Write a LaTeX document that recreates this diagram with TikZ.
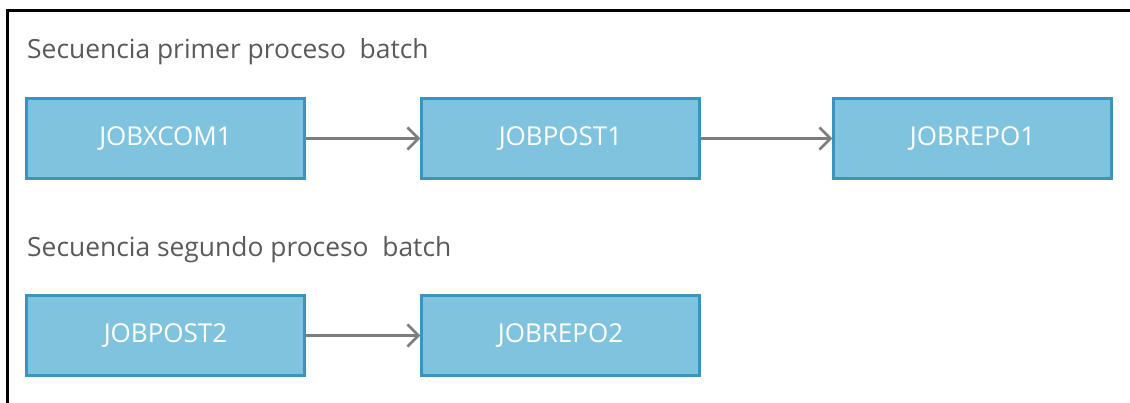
\documentclass[tikz,border=0pt]{standalone}
\usepackage{fontspec}
\setmainfont{Open Sans}
\usepackage{xcolor}
\usepackage{tikz}
\usetikzlibrary{arrows.meta, positioning}
\definecolor{jobfill}{RGB}{128, 195, 222}
\definecolor{jobedge}{RGB}{58, 148, 188}
\definecolor{arrowgray}{RGB}{125, 125, 125}
\definecolor{titlegray}{RGB}{90, 90, 90}

\begin{document}
\begin{tikzpicture}[x=1pt, y=-1pt,
    jobbox/.style={draw=jobedge, fill=jobfill, line width=2.5pt,
                   minimum width=278pt, minimum height=80pt, inner sep=0pt,
                   text=white, font=\fontsize{26}{30}\selectfont},
    seqtitle/.style={anchor=base west, inner sep=0pt, text=titlegray,
                     font=\fontsize{26.4}{30}\selectfont},
    flow/.style={arrowgray, line width=2.5pt, -{Straight Barb[length=11pt, width=22pt, line width=2.5pt]}}]
    \useasboundingbox (0,0) rectangle (1130,403);

    % Frame (cropped screenshot)
    \draw[line width=3pt] (7,403) -- (7,11) -- (1130,11);

    % First batch sequence
    \node[seqtitle] (title1) at (27,59) {Secuencia primer proceso\ \ batch};
    \node[jobbox] (xcom1) at (165.5,138.5) {JOBXCOM1};
    \node[jobbox] (post1) at (560.5,138.5) {JOBPOST1};
    \node[jobbox] (repo1) at (972.5,138.5) {JOBREPO1};
    \draw[flow] (xcom1) -- (post1);
    \draw[flow] (post1) -- (repo1);

    % Second batch sequence
    \node[seqtitle] (title2) at (27,257) {Secuencia segundo proceso\ \ batch};
    \node[jobbox] (post2) at (165.5,335.5) {JOBPOST2};
    \node[jobbox] (repo2) at (560.5,335.5) {JOBREPO2};
    \draw[flow] (post2) -- (repo2);
\end{tikzpicture}
\end{document}
